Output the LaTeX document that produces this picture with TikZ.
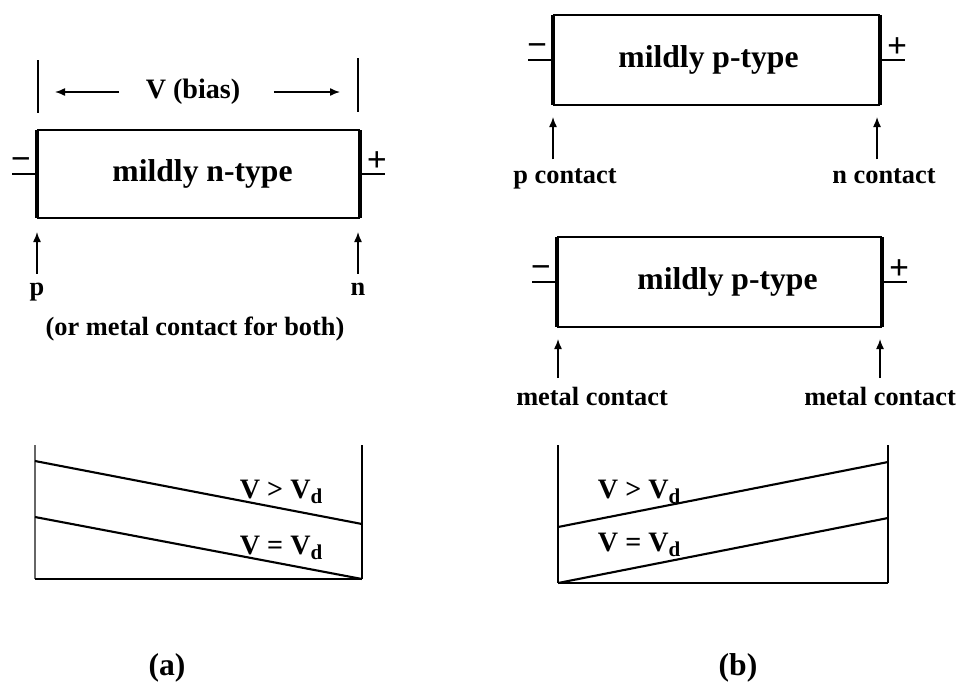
\documentclass[tikz,border=0pt]{standalone}
\usepackage{fontspec}
\setmainfont{Liberation Serif}
\usetikzlibrary{arrows.meta, positioning, calc}
\def\termLen{25}
\def\tipGap{12}
\def\tailGap{8}

\begin{document}
\begin{tikzpicture}[x=0.1mm, y=-0.1mm,
                    font=\bfseries,
                    edge/.style={line width=0.5pt},
                    contact/.style={line width=1.3pt},
                    guide/.style={line width=0.35pt},
                    slope/.style={line width=0.6pt},
                    ptr/.style={-{Latex[length=1mm, width=0.8mm]}, line width=0.4pt},
                    lbl/.style={inner sep=0pt, anchor=base, font=\bfseries\fontsize{7.5}{8}\selectfont},
                    boxlbl/.style={inner sep=0pt, font=\bfseries\fontsize{9}{10}\selectfont},
                    vlbl/.style={inner sep=0pt, font=\bfseries\fontsize{8}{9}\selectfont},
                    sign/.style={inner sep=0pt, font=\bfseries\fontsize{10}{10}\selectfont}]

    \useasboundingbox (0,0) rectangle (970,686);

    % ==========================================================
    % 1. NAMED COORDINATES (device bars and band panels)
    % ==========================================================
    \coordinate (aTL) at (37,130);   \coordinate (aBR) at (360,218);
    \coordinate (bTL) at (553,15);   \coordinate (bBR) at (880,105);
    \coordinate (cTL) at (557,237);  \coordinate (cBR) at (882,327);

    \coordinate (dTL) at (35,445);   \coordinate (dBR) at (362,579);
    \coordinate (eTL) at (558,445);  \coordinate (eBR) at (888,583);

    % ==========================================================
    % 2. DEVICE BARS (thin top/bottom, heavy contact sides)
    % ==========================================================
    \foreach \bx in {a,b,c} {
        \draw[edge] (\bx TL) -- (\bx TL -| \bx BR);
        \draw[edge] (\bx BR) -- (\bx BR -| \bx TL);
        \draw[contact] (\bx TL) -- (\bx TL |- \bx BR);
        \draw[contact] (\bx BR) -- (\bx BR |- \bx TL);
        % Terminals at mid height
        \coordinate (\bx ML) at ($(\bx TL)!0.5!(\bx TL |- \bx BR)$);
        \coordinate (\bx MR) at ($(\bx BR)!0.5!(\bx BR |- \bx TL)$);
        \draw[edge] (\bx ML) -- ++(-\termLen,0);
        \draw[edge] (\bx MR) -- ++(\termLen,0);
        \node[sign] (\bx Minus) at ($(\bx ML)+(-16,-10)$) {−};
        \node[sign] (\bx Plus)  at ($(\bx MR)+(17,-12)$) {+};
    }

    \node[boxlbl] (aText) at ($(aTL)!0.5!(aBR)+(4,0)$) {mildly n-type};
    \node[boxlbl] (bText) at ($(bTL)!0.5!(bBR)+(-8,0)$) {mildly p-type};
    \node[boxlbl] (cText) at ($(cTL)!0.5!(cBR)+(8,0)$) {mildly p-type};

    % ==========================================================
    % 3. BIAS SPAN (panel a)
    % ==========================================================
    \draw[guide] ($(aTL)+(1,-70)$) -- ($(aTL)+(1,-17)$);
    \draw[guide] ($(aBR |- aTL)+(-2,-72)$) -- ($(aBR |- aTL)+(-2,-18)$);

    \node[vlbl] (biasLbl) at (193,92) {V (bias)};
    \coordinate (biasTipL) at (55,92);
    \coordinate (biasTipR) at (340,92);
    \draw[ptr] ($(biasLbl.west)+(-26,0)$) -- (biasTipL);
    \draw[ptr] ($(biasLbl.east)+(33,0)$) -- (biasTipR);

    % ==========================================================
    % 4. CONTACT CALLOUTS
    % ==========================================================
    \node[lbl] (pLbl) at (37,295) {p};
    \node[lbl] (nLbl) at (358,295) {n};
    \node[lbl] (bothLbl) at (195,335) {(or metal contact for both)};
    \draw[ptr] ($(aTL |- pLbl.north)+(0,-\tailGap)$) -- ($(aTL |- aBR)+(0,14)$);
    \draw[ptr] ($(aBR |- nLbl.north)+(-2,-\tailGap)$) -- ($(aBR)+(-2,14)$);

    \node[lbl] (pcLbl) at (565,183) {p contact};
    \node[lbl] (ncLbl) at (884,183) {n contact};
    \draw[ptr] ($(bTL |- pcLbl.north)+(0,-\tailGap)$) -- ($(bTL |- bBR)+(0,\tipGap)$);
    \draw[ptr] ($(bBR |- ncLbl.north)+(-3,-\tailGap)$) -- ($(bBR)+(-3,\tipGap)$);

    \node[lbl] (mcLLbl) at (592,405) {metal contact};
    \node[lbl] (mcRLbl) at (880,405) {metal contact};
    \draw[ptr] ($(cTL |- mcLLbl.north)+(1,-\tailGap)$) -- ($(cTL |- cBR)+(1,\tipGap)$);
    \draw[ptr] ($(cBR |- mcRLbl.north)+(-2,-\tailGap)$) -- ($(cBR)+(-2,\tipGap)$);

    % ==========================================================
    % 5. BAND PANELS
    % ==========================================================
    % Panel (a): field falls to the right
    \draw[guide, black!60] (dTL) -- (dTL |- dBR);
    \draw[guide] (dBR |- dTL) -- (dBR);
    \draw[edge] (dTL |- dBR) -- (dBR);
    \draw[slope] (35,461) -- (362,524);
    \draw[slope] (35,517) -- (dBR);
    \node[vlbl] (aHigh) at (282,492) {V > V\textsubscript{d}};
    \node[vlbl] (aEq)   at (282,548) {V = V\textsubscript{d}};

    % Panel (b): field rises to the right
    \draw[guide] (eTL) -- (eTL |- eBR);
    \draw[guide] (eBR |- eTL) -- (eBR);
    \draw[edge] (eTL |- eBR) -- (eBR);
    \draw[slope] (558,527) -- (888,462);
    \draw[slope] (eTL |- eBR) -- (888,518);
    \node[vlbl] (bHigh) at (640,492) {V > V\textsubscript{d}};
    \node[vlbl] (bEq)   at (640,545) {V = V\textsubscript{d}};

    % ==========================================================
    % 6. PANEL TAGS
    % ==========================================================
    \node[boxlbl] (tagA) at (167,668) {(a)};
    \node[boxlbl] (tagB) at (738,668) {(b)};

\end{tikzpicture}
\end{document}
